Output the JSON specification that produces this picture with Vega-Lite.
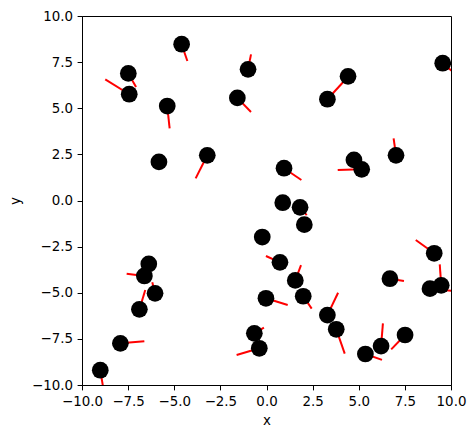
{
  "$schema": "https://vega.github.io/schema/vega-lite/v6.json",
  "width": 369,
  "height": 369,
  "autosize": {"type": "none"},
  "padding": {"left": 82, "top": 16, "right": 25, "bottom": 53},
  "background": "white",
  "config": {
    "view": {"stroke": "black", "strokeWidth": 1},
    "font": "DejaVu Sans",
    "axis": {
      "grid": false,
      "domainColor": "black",
      "tickColor": "black",
      "tickSize": 4.9,
      "labelColor": "black",
      "labelFontSize": 13.4,
      "labelPadding": 4.5,
      "labelOverlap": false,
      "labelFlush": false,
      "labelBound": false,
      "titleFontSize": 13.4,
      "titleFontWeight": "normal",
      "titleColor": "black",
      "labelFont": "DejaVu Sans",
      "titleFont": "DejaVu Sans"
    }
  },
  "data": {
    "values": [
      {"x": -4.60, "y": 8.47, "x2": -4.29, "y2": 7.56},
      {"x": -1.00, "y": 7.11, "x2": -0.84, "y2": 7.92},
      {"x": -7.49, "y": 6.89, "x2": -7.07, "y2": 6.15},
      {"x": -7.44, "y": 5.76, "x2": -8.74, "y2": 6.57},
      {"x": -1.58, "y": 5.56, "x2": -0.84, "y2": 4.80},
      {"x": -5.38, "y": 5.12, "x2": -5.25, "y2": 3.91},
      {"x": -5.83, "y": 2.09},
      {"x": -3.21, "y": 2.45, "x2": -3.84, "y2": 1.20},
      {"x": 4.42, "y": 6.73},
      {"x": 3.30, "y": 5.49, "x2": 4.16, "y2": 6.42},
      {"x": 9.55, "y": 7.44, "x2": 10.05, "y2": 7.02},
      {"x": 7.02, "y": 2.45, "x2": 6.89, "y2": 3.37},
      {"x": 4.74, "y": 2.20},
      {"x": 5.16, "y": 1.69, "x2": 3.86, "y2": 1.65},
      {"x": 0.95, "y": 1.75, "x2": 1.89, "y2": 1.11},
      {"x": 0.88, "y": -0.12},
      {"x": 1.82, "y": -0.37, "x2": 2.18, "y2": -0.79},
      {"x": 2.05, "y": -1.31},
      {"x": -0.23, "y": -1.98},
      {"x": 0.73, "y": -3.35, "x2": -0.03, "y2": -3.01},
      {"x": 1.56, "y": -4.33, "x2": 1.87, "y2": -3.50},
      {"x": 1.99, "y": -5.19, "x2": 2.45, "y2": -5.86},
      {"x": -0.03, "y": -5.30, "x2": 1.15, "y2": -5.66},
      {"x": -0.66, "y": -7.20, "x2": -0.14, "y2": -6.89},
      {"x": -0.39, "y": -8.01, "x2": -1.62, "y2": -8.37},
      {"x": 3.30, "y": -6.21, "x2": 3.88, "y2": -5.00},
      {"x": 3.78, "y": -6.98, "x2": 4.24, "y2": -8.30},
      {"x": 5.36, "y": -8.32, "x2": 6.26, "y2": -8.64},
      {"x": 6.21, "y": -7.89, "x2": 6.31, "y2": -6.66},
      {"x": 7.51, "y": -7.29, "x2": 6.76, "y2": -8.07},
      {"x": 6.69, "y": -4.24, "x2": 7.45, "y2": -4.36},
      {"x": 9.09, "y": -2.86, "x2": 8.09, "y2": -2.14},
      {"x": 8.86, "y": -4.78, "x2": 10.1, "y2": -4.9},
      {"x": 9.47, "y": -4.60, "x2": 9.39, "y2": -3.46},
      {"x": -6.38, "y": -3.44},
      {"x": -6.62, "y": -4.09, "x2": -7.58, "y2": -3.97},
      {"x": -6.04, "y": -5.03, "x2": -6.19, "y2": -4.43},
      {"x": -6.89, "y": -5.90, "x2": -6.57, "y2": -4.85},
      {"x": -7.92, "y": -7.74, "x2": -6.62, "y2": -7.63},
      {"x": -9.01, "y": -9.20, "x2": -8.83, "y2": -10.27}
    ]
  },
  "layer": [
    {
      "transform": [{"filter": "isValid(datum.x2)"}],
      "mark": {"type": "rule", "color": "red", "strokeWidth": 2, "clip": true},
      "encoding": {
        "x": {"field": "x", "type": "quantitative"},
        "y": {"field": "y", "type": "quantitative"},
        "x2": {"field": "x2"},
        "y2": {"field": "y2"}
      }
    },
    {
      "mark": {"type": "circle", "color": "black", "opacity": 1, "size": 280, "clip": true},
      "encoding": {
        "x": {
          "field": "x", "type": "quantitative",
          "scale": {"domain": [-10, 10], "nice": false, "zero": false},
          "axis": {"values": [-10, -7.5, -5, -2.5, 0, 2.5, 5, 7.5, 10], "format": ".1f", "title": "x", "titlePadding": 6}
        },
        "y": {
          "field": "y", "type": "quantitative",
          "scale": {"domain": [-10, 10], "nice": false, "zero": false},
          "axis": {"values": [-10, -7.5, -5, -2.5, 0, 2.5, 5, 7.5, 10], "format": ".1f", "title": "y", "titlePadding": 9}
        }
      }
    }
  ]
}
